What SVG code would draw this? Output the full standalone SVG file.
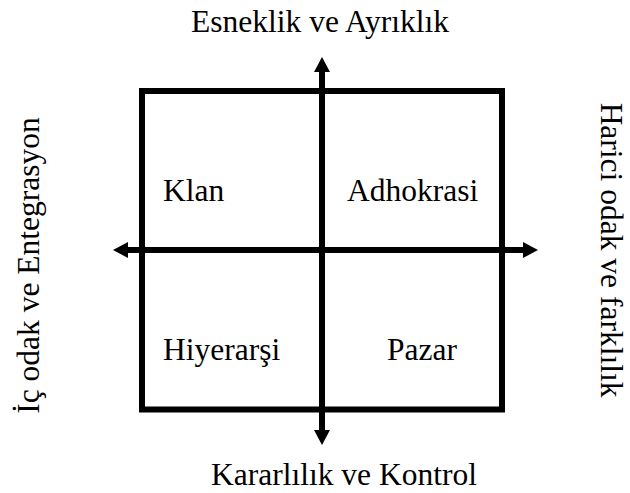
<svg xmlns="http://www.w3.org/2000/svg" width="630" height="493" viewBox="0 0 630 493">
<style>
text{font-family:'Liberation Serif','Times New Roman',serif;font-size:31.5px;fill:#000}
.box{fill:none;stroke:#000;stroke-width:6}
.ax{stroke:#000;stroke-width:6;fill:none}
</style>
<defs>
<marker id="ah" viewBox="0 0 15 16" refX="0" refY="8" markerWidth="15" markerHeight="16" markerUnits="userSpaceOnUse" orient="auto">
<path d="M0,0 L15,8 L0,16 Z" fill="#000"/>
</marker>
</defs>
<rect width="630" height="493" fill="#fff"/>
<g id="quadrant">
<rect class="box" x="142" y="91" width="360" height="318.5"/>
</g>
<g id="connectors">
<line class="ax" x1="322" y1="250" x2="322" y2="72" marker-end="url(#ah)"/>
<line class="ax" x1="322" y1="250" x2="322" y2="430" marker-end="url(#ah)"/>
<line class="ax" x1="322" y1="250" x2="128" y2="250" marker-end="url(#ah)"/>
<line class="ax" x1="322" y1="250" x2="523" y2="250" marker-end="url(#ah)"/>
</g>
<g id="axis-top"><text x="320" y="32" text-anchor="middle">Esneklik ve Ayrıklık</text></g>
<g id="axis-bottom"><text x="344" y="485" text-anchor="middle">Kararlılık ve Kontrol</text></g>
<g id="axis-left"><text transform="translate(39,265.5) rotate(-90)" text-anchor="middle">İç odak ve Entegrasyon</text></g>
<g id="axis-right"><text transform="translate(601,250) rotate(90)" text-anchor="middle">Harici odak ve farklılık</text></g>
<g id="klan"><text x="163" y="201">Klan</text></g>
<g id="adhokrasi"><text x="347" y="201">Adhokrasi</text></g>
<g id="hiyerarsi"><text x="163" y="360">Hiyerarşi</text></g>
<g id="pazar"><text x="387" y="360">Pazar</text></g>
</svg>
